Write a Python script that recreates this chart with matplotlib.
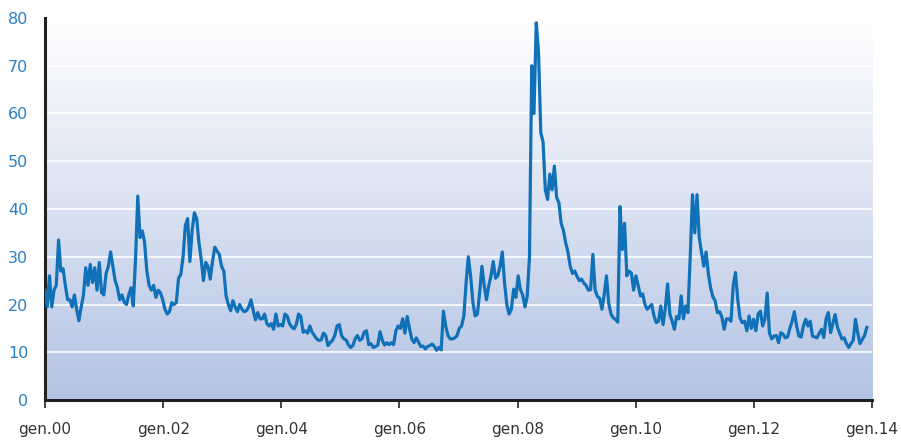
import matplotlib
matplotlib.use('Agg')
import matplotlib.pyplot as plt
import matplotlib.dates as mdates
import numpy as np
import pandas as pd

# Biweekly volatility index readings, one row of 26 values per year (2000-2013)
vals_2000 = [23, 19.5, 26, 19.5, 23, 24, 33.5, 27, 27.5, 24, 21, 21, 19.5, 22, 19, 16.6, 19.5, 22, 27.7, 24, 28.4, 24.6, 27.7, 23, 28.8, 22.5]
vals_2001 = [22, 26.5, 28, 31, 28, 25, 23.5, 21, 22, 20.5, 20, 22, 23.5, 19.7, 29.5, 42.7, 34, 35.4, 33, 27, 24, 23, 24, 21.5, 23, 22.5]
vals_2002 = [21, 19, 18, 18.5, 20.4, 20, 20.4, 25.5, 26.3, 30, 36.5, 38, 29, 35.5, 39.2, 38, 33, 29.5, 25, 28.8, 28, 25.3, 29, 32, 31.2, 30.5]
vals_2003 = [28, 27, 21.8, 20, 18.7, 20.8, 19.5, 18.5, 20, 19, 18.5, 18.7, 19.5, 21, 18.7, 16.8, 18.3, 17, 17, 18, 16, 15.5, 16, 14.8, 18, 15.5]
vals_2004 = [15.8, 15.5, 18, 17.6, 16, 15.3, 14.9, 15.8, 18, 17.5, 14.2, 14.5, 14, 15.5, 14.2, 13.5, 12.8, 12.5, 12.6, 14, 13.5, 11.4, 12, 12.5, 13.5, 15.5]
vals_2005 = [15.8, 13.5, 12.8, 12.6, 11.6, 11, 11.4, 12.8, 13.5, 12.5, 12.8, 14.2, 14.5, 11.6, 11.8, 11, 11.2, 11.5, 14.3, 12.5, 11.5, 12, 11.6, 12, 11.6, 14.5]
vals_2006 = [15.5, 15, 17, 14, 17.5, 15, 12.8, 12, 13, 12.1, 11.2, 11.3, 10.7, 11.2, 11.4, 11.7, 11.2, 10.4, 11, 10.5, 18.6, 15.5, 13.5, 12.8, 12.8, 13]
vals_2007 = [13.5, 15, 15.5, 17.5, 24.5, 30, 26, 20.5, 17.6, 18, 22.5, 28, 24, 21, 23.9, 26, 29, 25.5, 26, 28, 31, 24.5, 20, 18, 19, 23.2]
vals_2008 = [21.5, 26, 23.1, 22, 19.5, 21.7, 30, 70, 60, 79, 72.8, 56, 54, 44, 42, 47.3, 44, 49, 42.4, 41.3, 37, 35.5, 32.9, 31, 28, 26.5]
vals_2009 = [27, 25.9, 25, 25.3, 24.5, 24, 23, 23.1, 30.5, 23, 21.7, 21.3, 19, 22, 26, 20.3, 18, 17.2, 16.9, 16.3, 40.5, 31.5, 37, 26, 27, 26.6]
vals_2010 = [23, 26, 24, 21.8, 22.2, 20, 19, 19.5, 20, 17.6, 16.2, 16.5, 19.7, 15.8, 19.2, 24.3, 18, 16.5, 14.8, 17.5, 17, 21.8, 17, 19.7, 18.3, 30]
vals_2011 = [43, 35, 43, 34, 30.9, 28, 31, 26.5, 23.5, 21.6, 20.8, 18.3, 18.5, 17.3, 14.8, 17, 17, 16.5, 24, 26.7, 21, 17.2, 16.2, 16.5, 14.5, 17.6]
vals_2012 = [15, 16.9, 14.5, 18, 18.6, 15.5, 17, 22.4, 14, 12.8, 13.4, 13.5, 12, 14.1, 13.8, 13, 13.2, 15, 16.5, 18.5, 15.5, 13.4, 13.2, 15.5, 16.9, 15.5]
vals_2013 = [16.5, 13.4, 13.2, 13, 14, 14.8, 13.1, 17, 18.3, 14.1, 16, 17.9, 15.3, 14, 12.8, 13, 11.8, 11, 11.8, 12.5, 16.9, 14, 11.8, 12.7, 13.5, 15.2]

values = (vals_2000 + vals_2001 + vals_2002 + vals_2003 + vals_2004 + vals_2005 + vals_2006
          + vals_2007 + vals_2008 + vals_2009 + vals_2010 + vals_2011 + vals_2012 + vals_2013)
dates = pd.date_range('2000-01-01', periods=len(values), freq='14D')

tick_years = [2000, 2002, 2004, 2006, 2008, 2010, 2012, 2014]
tick_labels = ['gen.00', 'gen.02', 'gen.04', 'gen.06', 'gen.08', 'gen.10', 'gen.12', 'gen.14']
y_ticks = [0, 10, 20, 30, 40, 50, 60, 70, 80]

fig = plt.figure(figsize=(9.01, 4.42), dpi=100)
ax = fig.add_axes([0.0499, 0.095, 0.9179, 0.8643])

x0 = mdates.date2num(pd.Timestamp('2000-01-01'))
x1 = mdates.date2num(pd.Timestamp('2014-01-01'))

# Vertical gradient background (white at top -> light steel blue at bottom)
top = np.array([1.0, 1.0, 1.0])
bottom = np.array([180, 196, 228]) / 255.0
t = np.linspace(0, 1, 256)[:, None]
grad = top * (1 - t) + bottom * t
ax.imshow(grad[:, None, :], extent=[x0, x1, 0, 80], aspect='auto', zorder=0, origin='upper')

for yv in y_ticks[1:-1]:
    ax.axhline(yv, color='white', lw=1.2, zorder=1)

ax.plot(dates, values, color='#1070b8', lw=2.3, zorder=3, solid_joinstyle='round')

ax.set_xlim(x0, x1)
ax.set_ylim(0, 80)

ax.set_xticks([mdates.date2num(pd.Timestamp(f'{y}-01-01')) for y in tick_years])
ax.set_xticklabels(tick_labels, fontsize=11, color='#333333')
ax.set_yticks(y_ticks)
ax.set_yticklabels([str(v) for v in y_ticks], fontsize=11.5, color='#2a7fc4')

ax.tick_params(axis='y', length=0, pad=12)
ax.tick_params(axis='x', length=6, width=1.2, color='#222222', pad=10, direction='out')

for s in ['top', 'right']:
    ax.spines[s].set_visible(False)
ax.spines['left'].set_linewidth(2.2)
ax.spines['left'].set_color('#222222')
ax.spines['bottom'].set_linewidth(2.2)
ax.spines['bottom'].set_color('#222222')

plt.savefig('out.png', dpi=100)
plt.close()
